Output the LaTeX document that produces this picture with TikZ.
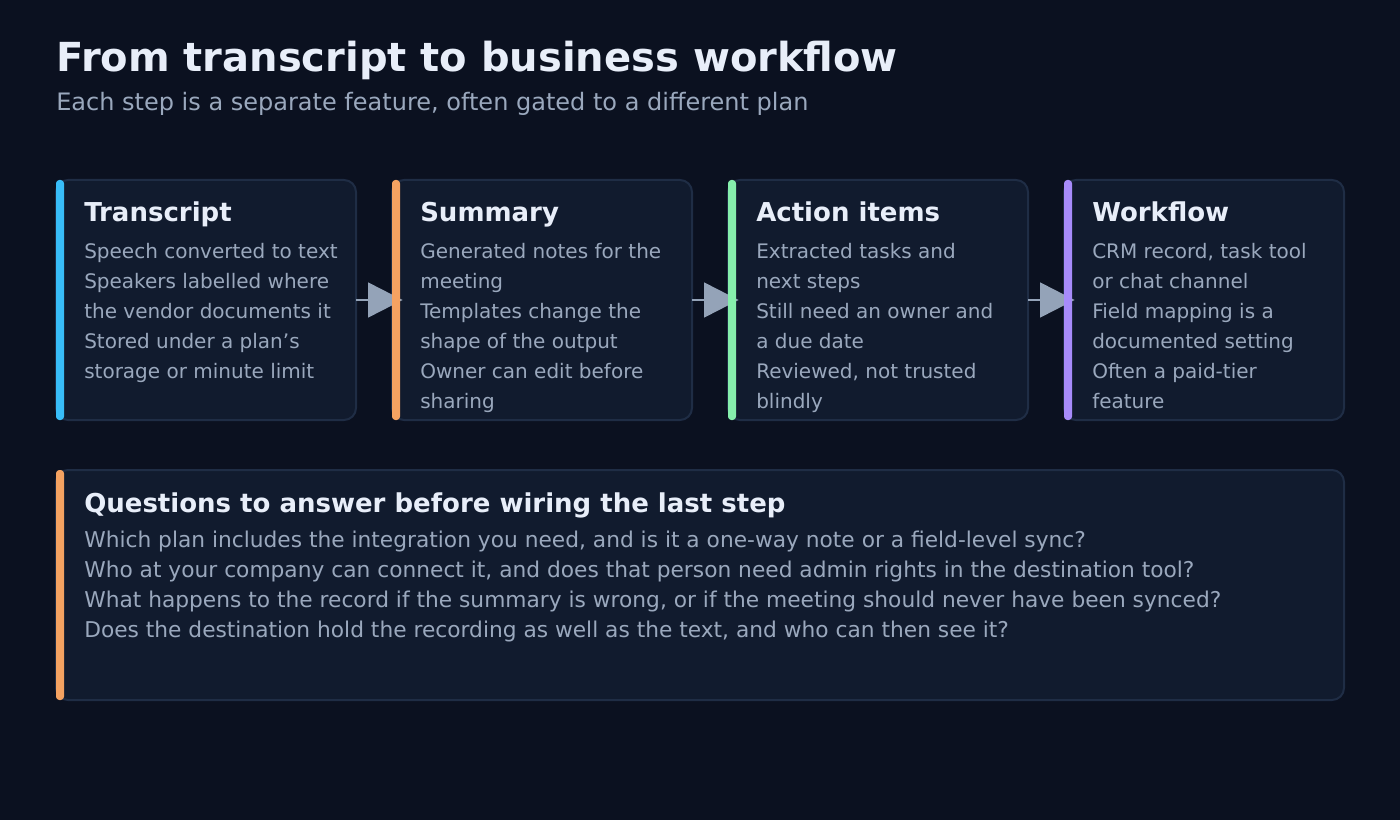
\documentclass[tikz,border=0pt]{standalone}
\usepackage{fontspec}
\setmainfont{DejaVu Sans}
\usetikzlibrary{arrows.meta}
\definecolor{bg}{HTML}{0B1120}
\definecolor{card}{HTML}{111B2E}
\definecolor{cborder}{HTML}{1F2D45}
\definecolor{ttl}{HTML}{E8EEF9}
\definecolor{sub}{HTML}{9AA8BD}
\definecolor{arr}{HTML}{94A3B8}
\definecolor{acyan}{HTML}{38BDF8}
\definecolor{aorange}{HTML}{F4A261}
\definecolor{agreen}{HTML}{86EFAC}
\definecolor{apurple}{HTML}{A78BFA}
\tikzset{
 card/.style={fill=card,draw=cborder,line width=1.5,rounded corners=9},
 bar/.style={rounded corners=2.5},
 htitle/.style={anchor=base west,inner sep=0,text=ttl,font=\fontsize{19.5}{23}\selectfont\bfseries},
 body/.style={anchor=north west,inner sep=0,text=sub,align=left,font=\fontsize{15}{22.5}\selectfont},
 qbody/.style={anchor=north west,inner sep=0,text=sub,align=left,font=\fontsize{16.3}{22.5}\selectfont},
 flow/.style={draw=arr,line width=2.2,-{Triangle[length=26,width=26]},shorten >=-8}
}
\begin{document}
\begin{tikzpicture}[x=0.75pt,y=-0.75pt]
\fill[bg] (0,0) rectangle (1400,820);
\useasboundingbox (0,0) rectangle (1400,820);
\node[anchor=base west,inner sep=0,text=ttl,font=\fontsize{30}{36}\selectfont\bfseries] (title) at (56,72) {From transcript to business workflow};
\node[anchor=base west,inner sep=0,text=sub,font=\fontsize{18}{21}\selectfont] (subtitle) at (56,111) {Each step is a separate feature, often gated to a different plan};
\foreach \n/\x/\w in {c1/56/300,c2/392/300,c3/728/300,c4/1064/280}{
  \draw[card] (\x,180) rectangle ++(\w,240);
  \path (\x+\w,300) coordinate (\n e) (\x,300) coordinate (\n w);
}
\draw[flow] (c1e) -- (c2w);
\draw[flow] (c2e) -- (c3w);
\draw[flow] (c3e) -- (c4w);
\foreach \x/\c in {56/acyan,392/aorange,728/agreen,1064/apurple}
  \fill[\c,bar] (\x,180) rectangle ++(8,240);
\node[htitle] (t1) at (84,222) {Transcript};
\node[htitle] (t2) at (420,222) {Summary};
\node[htitle] (t3) at (756,222) {Action items};
\node[htitle] (t4) at (1092,222) {Workflow};
\node[body] (b1) at (84,243) {Speech converted to text\\Speakers labelled where\\the vendor documents it\\Stored under a plan{\char"27}s\\storage or minute limit};
\node[body] (b2) at (420,243) {Generated notes for the\\meeting\\Templates change the\\shape of the output\\Owner can edit before\\sharing};
\node[body] (b3) at (756,243) {Extracted tasks and\\next steps\\Still need an owner and\\a due date\\Reviewed, not trusted\\blindly};
\node[body] (b4) at (1092,243) {CRM record, task tool\\or chat channel\\Field mapping is a\\documented setting\\Often a paid-tier\\feature};
\draw[card] (56,470) rectangle (1344,700);
\fill[aorange,bar] (56,470) rectangle ++(8,230);
\node[htitle] (qt) at (84,512) {Questions to answer before wiring the last step};
\node[qbody] (qb) at (84,531) {Which plan includes the integration you need, and is it a one-way note or a field-level sync?\\Who at your company can connect it, and does that person need admin rights in the destination tool?\\What happens to the record if the summary is wrong, or if the meeting should never have been synced?\\Does the destination hold the recording as well as the text, and who can then see it?};
\end{tikzpicture}
\end{document}
